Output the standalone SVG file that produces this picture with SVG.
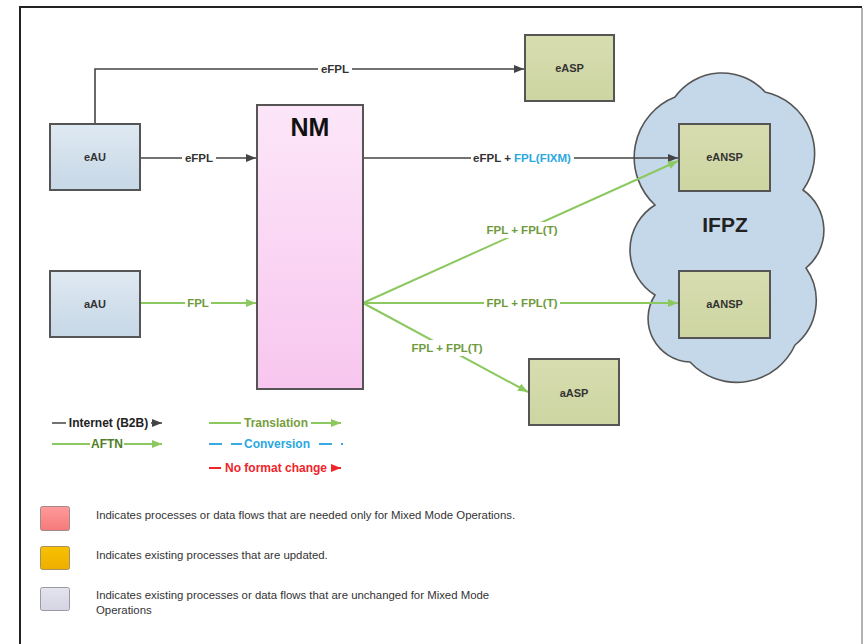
<svg xmlns="http://www.w3.org/2000/svg" width="863" height="644" viewBox="0 0 863 644">
<defs>
<style>
.t{font-family:"Liberation Sans",Arial,sans-serif;font-weight:bold;}
.lbl{font-size:11.5px;text-anchor:middle;}
.box{font-size:11px;fill:#333;text-anchor:middle;}
.leg{font-family:"Liberation Sans",Arial,sans-serif;font-size:11.4px;fill:#333;}
.k{stroke:#444;stroke-width:1.6;fill:none;}
.g{stroke:#8cc860;stroke-width:2;fill:none;}
.r{stroke:#f0242a;stroke-width:2.2;fill:none;}
.gd{stroke:#7a9a48;stroke-width:2;fill:none;stroke-dasharray:9 6;}
.bd{stroke:#3aaae0;stroke-width:2;fill:none;stroke-dasharray:9 6;}
.gt{fill:#6e9a3c;}
.bg{fill:#fff;}
.nodebox{stroke:#555;stroke-width:2;}
</style>
<linearGradient id="blueG" x1="0" y1="0" x2="0" y2="1"><stop offset="0" stop-color="#dfe9f2"/><stop offset="1" stop-color="#c6d7e6"/></linearGradient>
<linearGradient id="greenG" x1="0" y1="0" x2="0" y2="1"><stop offset="0" stop-color="#d8ddb0"/><stop offset="1" stop-color="#cdd5a2"/></linearGradient>
<linearGradient id="pinkG" x1="0" y1="0" x2="0" y2="1"><stop offset="0" stop-color="#fce6f8"/><stop offset="1" stop-color="#f8c6ef"/></linearGradient>
<linearGradient id="redSq" x1="0" y1="0" x2="0" y2="1"><stop offset="0" stop-color="#ff9a9a"/><stop offset="1" stop-color="#f57a7a"/></linearGradient>
<linearGradient id="orSq" x1="0" y1="0" x2="0" y2="1"><stop offset="0" stop-color="#f7c200"/><stop offset="1" stop-color="#eeae00"/></linearGradient>
<linearGradient id="grSq" x1="0" y1="0" x2="0" y2="1"><stop offset="0" stop-color="#e4e4ef"/><stop offset="1" stop-color="#d4d4e2"/></linearGradient>
<marker id="aK" markerUnits="userSpaceOnUse" markerWidth="10" markerHeight="8" refX="10" refY="4" orient="auto"><path d="M0,0 L10,4 L0,8 z" fill="#444"/></marker>
<marker id="aG" markerUnits="userSpaceOnUse" markerWidth="10" markerHeight="8" refX="10" refY="4" orient="auto"><path d="M0,0 L10,4 L0,8 z" fill="#8cc860"/></marker>
<marker id="aR" markerUnits="userSpaceOnUse" markerWidth="10" markerHeight="8" refX="10" refY="4" orient="auto"><path d="M0,0 L10,4 L0,8 z" fill="#f0242a"/></marker>
</defs>
<rect x="0" y="0" width="863" height="644" fill="#fff"/>
<!-- frame -->
<path d="M20,644 L20,7 L862,7" fill="none" stroke="#222" stroke-width="2"/>
<line x1="862" y1="8" x2="862" y2="644" stroke="#999" stroke-width="1.5"/>

<!-- cloud IFPZ -->
<g id="ifpz">
<path d="M655,205 A65 65 0 0 1 675,97 A58 58 0 0 1 765,92 A63 63 0 0 1 803,190 A49 49 0 0 1 806,268 A57 57 0 0 1 795,345 A64 64 0 0 1 690,362 A43.5 43.5 0 0 1 655,295 A53 53 0 0 1 655,205 Z" fill="#c5d8e9" stroke="#555" stroke-width="1.6"/>
<text class="t" x="725" y="232" font-size="21" fill="#222" text-anchor="middle">IFPZ</text>
</g>

<!-- connectors -->
<g id="connectors">
<path class="k" d="M95,123 L95,69 L524,69" marker-end="url(#aK)"/>
<line class="k" x1="140" y1="158" x2="256" y2="158" marker-end="url(#aK)"/>
<line class="g" x1="140" y1="303" x2="256" y2="303" marker-end="url(#aG)"/>
<line class="k" x1="363" y1="158" x2="678" y2="158" marker-end="url(#aK)"/>
<line class="gd" x1="258" y1="159" x2="363" y2="303"/>
<line class="bd" x1="258" y1="302" x2="363" y2="158"/>
<line class="r" x1="258" y1="158" x2="362" y2="158" marker-end="url(#aR)"/>
<line class="r" x1="258" y1="303" x2="362" y2="303" marker-end="url(#aR)"/>
<line class="g" x1="363" y1="303" x2="678" y2="161" marker-end="url(#aG)"/>
<line class="g" x1="363" y1="303" x2="678" y2="303" marker-end="url(#aG)"/>
<line class="g" x1="363" y1="303" x2="528" y2="392" marker-end="url(#aG)"/>
<!-- labels -->
<rect class="bg" x="318" y="62" width="34" height="14"/>
<text class="t lbl" x="335" y="73" fill="#333">eFPL</text>
<rect class="bg" x="182" y="151" width="34" height="14"/>
<text class="t lbl" x="199" y="162" fill="#333">eFPL</text>
<rect class="bg" x="185" y="296" width="26" height="14"/>
<text class="t lbl gt" x="198" y="307">FPL</text>
<rect class="bg" x="471" y="151" width="103" height="14"/>
<text class="t lbl" x="522" y="162"><tspan fill="#333">eFPL + </tspan><tspan fill="#2aa8e0">FPL(FIXM)</tspan></text>
<rect class="bg" x="484" y="222" width="76" height="16"/>
<text class="t lbl gt" x="522" y="234">FPL + FPL(T)</text>
<rect class="bg" x="484" y="296" width="76" height="14"/>
<text class="t lbl gt" x="522" y="307">FPL + FPL(T)</text>
<rect class="bg" x="409" y="340" width="76" height="16"/>
<text class="t lbl gt" x="447" y="352">FPL + FPL(T)</text>
</g>

<!-- nodes -->
<g id="nm">
<rect class="nodebox" x="257" y="105" width="106" height="284" fill="url(#pinkG)"/>
<text class="t" x="310" y="136" font-size="25" fill="#111" text-anchor="middle">NM</text>
</g>
<g id="eau">
<rect class="nodebox" x="50" y="124" width="90" height="66" fill="url(#blueG)"/>
<text class="t box" x="95" y="161">eAU</text>
</g>
<g id="aau">
<rect class="nodebox" x="50" y="271" width="90" height="66" fill="url(#blueG)"/>
<text class="t box" x="95" y="308">aAU</text>
</g>
<g id="easp">
<rect class="nodebox" x="525" y="35" width="89" height="66" fill="url(#greenG)"/>
<text class="t box" x="569.5" y="72">eASP</text>
</g>
<g id="eansp">
<rect class="nodebox" x="679" y="124" width="91" height="67" fill="url(#greenG)"/>
<text class="t box" x="724.5" y="161">eANSP</text>
</g>
<g id="aansp">
<rect class="nodebox" x="679" y="271" width="91" height="67" fill="url(#greenG)"/>
<text class="t box" x="724.5" y="308">aANSP</text>
</g>
<g id="aasp">
<rect class="nodebox" x="529" y="359" width="90" height="66" fill="url(#greenG)"/>
<text class="t box" x="574" y="397">aASP</text>
</g>

<!-- legend lines -->
<g id="legend-lines">
<line class="k" x1="52" y1="423" x2="162" y2="423" marker-end="url(#aK)" stroke-width="1.5"/>
<rect class="bg" x="66" y="415" width="85" height="16"/>
<text class="t" x="108.5" y="427" font-size="12" fill="#222" text-anchor="middle">Internet (B2B)</text>
<line class="g" x1="52" y1="444" x2="162" y2="444" marker-end="url(#aG)"/>
<rect class="bg" x="90" y="436" width="34" height="16"/>
<text class="t" x="107" y="448" font-size="12" fill="#4e7f26" text-anchor="middle">AFTN</text>
<line class="g" x1="209" y1="423" x2="341" y2="423" marker-end="url(#aG)"/>
<rect class="bg" x="241" y="415" width="70" height="16"/>
<text class="t" x="276" y="427" font-size="12" fill="#77a03c" text-anchor="middle">Translation</text>
<line x1="209" y1="444" x2="343" y2="444" stroke="#3aaae0" stroke-width="2" stroke-dasharray="13 9"/>
<rect class="bg" x="242" y="436" width="70" height="16"/>
<text class="t" x="277" y="448" font-size="12" fill="#2aa8e0" text-anchor="middle">Conversion</text>
<line class="r" x1="209" y1="468" x2="341" y2="468" marker-end="url(#aR)"/>
<rect class="bg" x="221" y="460" width="110" height="16"/>
<text class="t" x="276" y="472" font-size="12" fill="#f0242a" text-anchor="middle">No format change</text>
</g>

<!-- legend squares -->
<g id="legend-keys">
<rect x="40.5" y="506.5" width="29" height="24" rx="2" fill="url(#redSq)" stroke="#a08a8a" stroke-width="1"/>
<text class="leg" x="96" y="519">Indicates processes or data flows that are needed only for Mixed Mode Operations.</text>
<rect x="40.5" y="546.5" width="29" height="23" rx="2" fill="url(#orSq)" stroke="#a89060" stroke-width="1"/>
<text class="leg" x="96" y="559">Indicates existing processes that are updated.</text>
<rect x="40.5" y="587.5" width="29" height="23" rx="2" fill="url(#grSq)" stroke="#9a9aa4" stroke-width="1"/>
<text class="leg" x="96" y="599">Indicates existing processes or data flows that are unchanged for Mixed Mode</text>
<text class="leg" x="96" y="614">Operations</text>
</g>
</svg>
